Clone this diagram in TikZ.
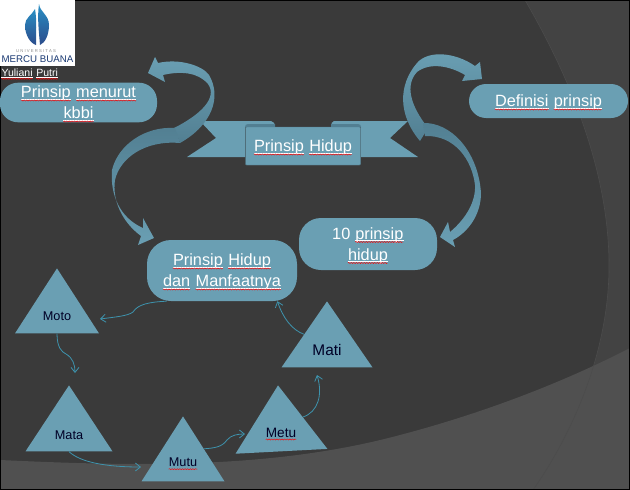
\documentclass[tikz,border=0pt]{standalone}
\usepackage{fontspec}
\setmainfont{Liberation Sans}
\usetikzlibrary{shapes.geometric,arrows.meta,decorations.pathmorphing}
\definecolor{slidebg}{HTML}{3A3A3A}
\definecolor{slideband}{HTML}{505050}
\definecolor{slideout}{HTML}{434343}
\definecolor{teal}{HTML}{6A9FB3}
\definecolor{tealdark}{HTML}{527F92}
\definecolor{tealline}{HTML}{3E93AD}
\definecolor{logotop}{HTML}{2A8FC4}
\definecolor{logobottom}{HTML}{2B4C8C}
\definecolor{logonavy}{HTML}{1B3A73}
\tikzset{
	pill/.style={fill=teal,rounded corners=#1,text=white,align=center,font=\fontsize{16.3}{21}\selectfont,inner sep=0pt},
	tri/.style={isosceles triangle,isosceles triangle apex angle=60,isosceles triangle stretches,shape border rotate=90,fill=teal,anchor=apex,inner sep=0pt},
	trilabel/.style={text=black!85!blue,inner sep=0pt},
	thinarrow/.style={draw=tealline,line width=.8pt,-{Straight Barb[length=5pt,width=8pt]}},
	ribbonup/.style={top color=teal,bottom color=tealdark},
	ribbondown/.style={top color=tealdark,bottom color=teal},
	wordbox/.style={inner sep=0pt,minimum width=0pt,minimum height=0pt,fill=none,draw=none,sharp corners,align=none,anchor=center},
	wavy/.style={draw=red,line width=.45pt,decorate,decoration={snake,amplitude=.55pt,segment length=2.6pt}}
}
% spelling mark under a word
\newcommand{\spell}[1]{\tikz[baseline=(word.base),sharp corners]{\node[wordbox] (word) {#1};
	\draw[white,line width=.5pt] ([yshift=-1.4pt]word.base west)--([yshift=-1.4pt]word.base east);
	\draw[wavy] ([yshift=-2.8pt]word.base west)--([yshift=-2.8pt]word.base east);}}
\newcommand{\spelldark}[1]{\tikz[baseline=(word.base),sharp corners]{\node[wordbox] (word) {#1};
	\draw[wavy] ([yshift=-2.4pt]word.base west)--([yshift=-2.4pt]word.base east);}}
\newcommand{\lineup}{\rule{0pt}{15pt}}
\begin{document}
\begin{tikzpicture}[x=1pt,y=-1pt]
	\useasboundingbox (0,0) rectangle (630,490);
	% slide background
	\fill[slideout] (0,0) rectangle (630,490);
	\fill[slidebg] (0,0)--(525,0) .. controls (583,100) and (610,190) .. (609,270) .. controls (608,350) and (575,430) .. (533,490)--(0,490)--cycle;
	\fill[slideband] (0,460) .. controls (130,466) and (270,470) .. (400,435) .. controls (480,414) and (560,384) .. (630,348)--(630,490)--(0,490)--cycle;
	\draw[black!70,line width=.6pt] (525,0) .. controls (583,100) and (610,190) .. (609,270) .. controls (608,350) and (575,430) .. (533,490);
	\draw[black,line width=1.5pt] (0,0) rectangle (630,490);
	% logo
	\fill[white] (0,0) rectangle (75,66);
	\shade[top color=logotop,bottom color=logobottom] (35,9) .. controls (37,20) and (36,35) .. (36,45) .. controls (30,43) and (25,35) .. (25,25) .. controls (25,18) and (32,15) .. (35,9)--cycle;
	\shade[top color=logotop,bottom color=logobottom] (39,4) .. controls (40,12) and (49,15) .. (49,25) .. controls (49,35) and (45,43) .. (40,45) .. controls (39,32) and (37,18) .. (39,4)--cycle;
	\node[inner sep=0pt,text=black!45,font=\fontsize{4.2}{4}\selectfont] (logocaption) at (36,51.5) {U N I V E R S I T A S};
	\node[inner sep=0pt,text=logonavy,font=\fontsize{9.7}{10}\selectfont] (logoname) at (37.5,59.5) {MERCU BUANA};
	\node[inner sep=0pt,text=white,font=\fontsize{10.5}{12}\selectfont,anchor=west] (author) at (1,74) {\spell{Yuliani} \spell{Putri}};
	% ribbon
	\fill[teal] (200,121)--(271,121) .. controls (274,121) and (275,124) .. (275,127)--(245,127)--(245,157)--(187,157)--(216,138)--cycle;
	\fill[teal] (408,121)--(334,121) .. controls (332,121) and (331,124) .. (331,127)--(361,127)--(361,157)--(418,157)--(390,138)--cycle;
	\fill[tealdark] (245,127) .. controls (245,125) and (246,124) .. (248,124)--(275,124)--(275,127)--cycle;
	\fill[tealdark] (361,127) .. controls (361,125) and (360,124) .. (358,124)--(331,124)--(331,127)--cycle;
	\node[pill=1pt,draw=tealdark,line width=.4pt,minimum width=115pt,minimum height=38pt] (hidup) at (303,146) {\lineup\spell{Prinsip} \spell{Hidup}};
	% big arrows
	\shade[ribbonup] (148,73)--(155,57)--(158,63) .. controls (180,58) and (203,66) .. (209,75) .. controls (222,97) and (212,125) .. (180,143)--(174,128) .. controls (200,115) and (218,98) .. (208,84) .. controls (198,72) and (180,71) .. (163,75)--(165,82)--cycle;
	\shade[ribbondown] (175,128) .. controls (145,126) and (118,145) .. (112,170) .. controls (110,195) and (120,218) .. (143,228)--(143,218)--(154,238)--(138,245)--(141,236) .. controls (122,222) and (112,200) .. (115,180) .. controls (120,158) and (145,140) .. (180,143)--cycle;
	\shade[ribbonup] (482,79)--(480,62)--(475,66) .. controls (455,52) and (428,50) .. (417,63) .. controls (398,85) and (398,115) .. (420,141)--(428,128) .. controls (410,105) and (405,85) .. (417,72) .. controls (430,62) and (450,66) .. (465,75)--(462,81)--cycle;
	\shade[ribbondown] (423,123) .. controls (450,122) and (478,150) .. (481,193) .. controls (481,215) and (468,232) .. (453,240)--(455,247)--(440,237)--(448,222)--(450,232) .. controls (462,222) and (476,205) .. (475,185) .. controls (472,160) and (455,135) .. (425,136)--cycle;
	% boxes
	\node[pill=18pt,minimum width=157pt,minimum height=37pt] (kbbi) at (78.5,102.5) {\lineup\spell{Prinsip} \spell{menurut}\\\spell{kbbi}};
	\node[pill=17pt,minimum width=159pt,minimum height=34pt] (definisi) at (548.5,101) {\lineup\spell{Definisi} \spell{prinsip}};
	\node[pill=22pt,minimum width=138pt,minimum height=52pt] (sepuluh) at (368,244) {\lineup 10 \spell{prinsip}\\\spell{hidup}};
	\node[pill=24pt,minimum width=150pt,minimum height=61pt] (manfaat) at (222,270.5) {\lineup\spell{Prinsip} \spell{Hidup}\\\spell{dan} \spell{Manfaatnya}};
	% triangles
	\node[tri,minimum width=84pt,minimum height=65pt] (moto) at (57,268) {};
	\node[tri,minimum width=87pt,minimum height=66pt] (mata) at (69,385) {};
	\node[tri,minimum width=83pt,minimum height=65pt] (mutu) at (183,416) {};
	\node[tri,minimum width=92pt,minimum height=66pt,rotate=3] (metu) at (278,385) {};
	\node[tri,minimum width=91pt,minimum height=66pt] (mati) at (327,301) {};
	\node[trilabel,font=\fontsize{12.7}{14}\selectfont] (motolabel) at (57,316) {Moto};
	\node[trilabel,font=\fontsize{12.7}{14}\selectfont] (matalabel) at (69,435) {Mata};
	\node[trilabel,font=\fontsize{12.7}{14}\selectfont] (mutulabel) at (183,464) {\spelldark{Mutu}};
	\node[trilabel,font=\fontsize{13.6}{14}\selectfont] (metulabel) at (281,434) {\spelldark{Metu}};
	\node[trilabel,font=\fontsize{15.4}{16}\selectfont] (matilabel) at (327,350) {Mati};
	% thin arrows
	\coordinate (mototip) at (100,319);
	\coordinate (matatip) at (75,373);
	\coordinate (mututip) at (141,467);
	\coordinate (metutip) at (245,434);
	\coordinate (matitip) at (317,375);
	\draw[thinarrow] (manfaat.209) .. controls (150,302) and (138,304) .. (133,312) .. controls (128,316) and (115,317) .. (mototip);
	\draw[thinarrow] (moto.lower side) .. controls (57,348) and (62,352) .. (66,354) .. controls (73,358) and (75,365) .. (matatip);
	\draw[thinarrow] (mata.lower side) .. controls (80,462) and (105,467) .. (mututip);
	\draw[thinarrow] (mutu.right side) .. controls (215,448) and (222,447) .. (227,440) .. controls (231,435) and (238,434) .. (metutip);
	\draw[thinarrow] (metu.right side) .. controls (318,412) and (323,395) .. (matitip);
	\draw[thinarrow] (mati.left side) .. controls (292,330) and (283,318) .. (manfaat.331);
\end{tikzpicture}
\end{document}
